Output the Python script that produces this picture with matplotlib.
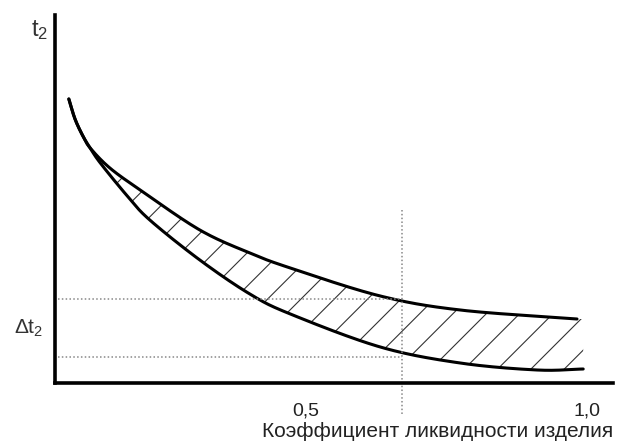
import numpy as np
import matplotlib.pyplot as plt

plt.rcParams['font.family'] = ['Liberation Sans', 'DejaVu Sans']
plt.rcParams['mathtext.fontset'] = 'custom'
plt.rcParams['mathtext.rm'] = 'Liberation Sans'
plt.rcParams['hatch.linewidth'] = 0.8

# curves (x = liquidity coefficient, y = t2, arbitrary units)
upper_x = [0.078, 0.089, 0.103, 0.116, 0.151, 0.205, 0.311, 0.400, 0.472,
           0.632, 0.774, 0.982]
upper_y = [2.84, 2.64, 2.47, 2.35, 2.15, 1.93, 1.53, 1.30, 1.15,
           0.87, 0.73, 0.64]

lower_x = [0.078, 0.089, 0.103, 0.116, 0.134, 0.182, 0.222, 0.311, 0.400,
           0.472, 0.632, 0.774, 0.911, 0.993]
lower_y = [2.84, 2.64, 2.47, 2.35, 2.20, 1.87, 1.63, 1.23, 0.89,
           0.69, 0.36, 0.20, 0.13, 0.14]

x_mark = 0.671          # vertical dotted line
dt_top, dt_bottom = 0.84, 0.26   # Δt2 bounds
tick_pos = [0.5, 1.0]
tick_labels = ['0,5', '1,0']


# smooth drawing through the read points (Catmull-Rom)
def smooth(xs, ys, n=30):
    p = np.column_stack([xs, ys])
    p = np.vstack([2 * p[0] - p[1], p, 2 * p[-1] - p[-2]])
    out = []
    t = np.linspace(0, 1, n, endpoint=False)[:, None]
    for i in range(1, len(p) - 2):
        p0, p1, p2, p3 = p[i - 1], p[i], p[i + 1], p[i + 2]
        out.append(0.5 * (2 * p1 + (-p0 + p2) * t
                          + (2 * p0 - 5 * p1 + 4 * p2 - p3) * t ** 2
                          + (-p0 + 3 * p1 - 3 * p2 + p3) * t ** 3))
    out.append(p[-2][None, :])
    out = np.vstack(out)
    return out[:, 0], out[:, 1]


ux, uy = smooth(upper_x, upper_y)
lx, ly = smooth(lower_x, lower_y)

fig = plt.figure(figsize=(6.18, 4.46), dpi=100)
ax = fig.add_axes([55 / 618, 1 - 383 / 446, 558 / 618, 368 / 446])
ax.set_xlim(0.0534, 1.046)
ax.set_ylim(0, 3.68)

# hatched band between the curves
grid_x = np.linspace(upper_x[0], lower_x[-1], 400)
up_i = np.interp(grid_x, np.append(ux, lower_x[-1]), np.append(uy, upper_y[-1]))
lo_i = np.interp(grid_x, lx, ly)
ax.fill_between(grid_x, lo_i, up_i, facecolor='none', edgecolor='#333333',
                hatch='/', linewidth=0)

ax.plot(ux, uy, color='black', lw=2.2, solid_capstyle='round')
ax.plot(lx, ly, color='black', lw=2.2, solid_capstyle='round')

dot = dict(color='#888888', lw=1.1, linestyle=(0, (1, 1.5)))
ax.plot([0.059, x_mark], [dt_top, dt_top], **dot)
ax.plot([0.059, x_mark], [dt_bottom, dt_bottom], **dot)
ax.plot([x_mark, x_mark], [1.73, -0.32], clip_on=False, **dot)

for s in ['top', 'right']:
    ax.spines[s].set_visible(False)
for s in ['left', 'bottom']:
    ax.spines[s].set_linewidth(2.6)
ax.set_yticks([])
ax.set_xticks(tick_pos)
ax.set_xticklabels(tick_labels, fontsize=14, color='#222222')
ax.tick_params(axis='x', length=0, pad=14)
ax.set_xlabel('Коэффициент ликвидности изделия', fontsize=15, color='#222222',
              ha='right', va='top')
ax.xaxis.set_label_coords(1.0, -(422 - 383) / 368)

fig.text(31 / 618, 1 - 30 / 446, r'$\mathregular{t_2}$', fontsize=17,
         color='#333333', va='center', ha='left')
fig.text(14 / 618, 1 - 328 / 446, r'$\mathregular{\Delta t_2}$', fontsize=15,
         color='#333333', va='center', ha='left')

fig.savefig('out.png', dpi=100)
